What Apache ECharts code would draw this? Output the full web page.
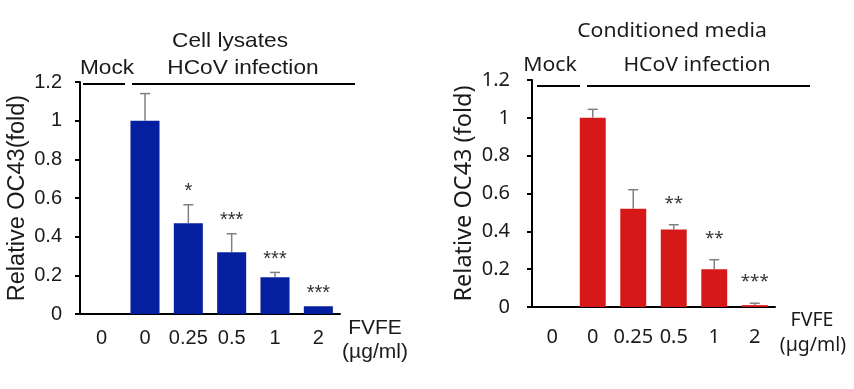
<!DOCTYPE html>
<html><head><meta charset="utf-8">
<script src="https://cdn.jsdelivr.net/npm/echarts@6/dist/echarts.min.js"></script>
<style>html,body{margin:0;padding:0;background:#fff}#c{width:854px;height:389px}</style>
</head><body><div id="c"></div>
<script>
const categories = ['0', '0', '0.25', '0.5', '1', '2'];
const yTicks = [0, 0.2, 0.4, 0.6, 0.8, 1, 1.2];
const lysateValues = [0, 1.0, 0.47, 0.32, 0.19, 0.04];
const lysateErrors = [0, 0.14, 0.095, 0.095, 0.025, 0];
const lysateStars = ['', '', '*', '***', '***', '***'];
const mediaValues = [0, 1.0, 0.52, 0.41, 0.20, 0.01];
const mediaErrors = [0, 0.045, 0.10, 0.025, 0.05, 0.01];
const mediaStars = ['', '', '', '**', '**', '***'];

const LF = 'Liberation Sans, Arial, sans-serif';
const RF = 'Noto Sans, Open Sans, sans-serif';
const TXT = '#1a1a1a';

function errSeries(gi, values, errors, stars, font, starOff, starSize) {
  return {
    type: 'custom', xAxisIndex: gi, yAxisIndex: gi, z: 5,
    data: values.map((v, i) => [i, v, errors[i]]),
    renderItem: function (params, api) {
      const i = api.value(0), v = api.value(1), e = api.value(2);
      const base = api.coord([i, v]);
      const top = api.coord([i, v + e]);
      const children = [];
      if (e > 0) {
        children.push({ type: 'line', shape: { x1: base[0], y1: base[1], x2: top[0], y2: top[1] }, style: { stroke: '#808080', lineWidth: 1.5 } });
        children.push({ type: 'line', shape: { x1: top[0] - 5, y1: top[1], x2: top[0] + 5, y2: top[1] }, style: { stroke: '#808080', lineWidth: 1.5 } });
      }
      const s = stars[params.dataIndex];
      if (s) {
        children.push({ type: 'text', style: { text: s, x: top[0], y: top[1] - starOff, align: 'center', verticalAlign: 'middle', font: starSize + 'px ' + font, fill: '#333' } });
      }
      return { type: 'group', children: children };
    }
  };
}

function yAxis(gi, name, font, gap, lmargin) {
  return {
    gridIndex: gi, type: 'value', min: yTicks[0], max: yTicks[yTicks.length - 1], interval: 0.2,
    name: name, nameLocation: 'middle', nameGap: gap, nameRotate: 90,
    nameTextStyle: { fontFamily: font, fontSize: 23.5, color: TXT },
    axisLine: { show: true, lineStyle: { color: '#000', width: 2 } },
    axisTick: { show: true, length: 5, lineStyle: { color: '#000', width: 2 } },
    axisLabel: { fontFamily: font, fontSize: 20, color: TXT, margin: lmargin },
    splitLine: { show: false }
  };
}
function xAxis(gi, font, margin) {
  return {
    gridIndex: gi, type: 'category', data: categories,
    axisLine: { show: true, lineStyle: { color: '#000', width: 2 } },
    axisTick: { show: false },
    axisLabel: { fontFamily: font, fontSize: 20, color: TXT, margin: margin, interval: 0 }
  };
}

function txt(x, y, text, font, size, sx) {
  return { type: 'text', x: x, y: y, scaleX: sx || 1, style: { text: text, x: 0, y: 0, font: size + 'px ' + font, fill: TXT, align: 'center', verticalAlign: 'middle' } };
}
function hline(x1, x2, y) {
  return { type: 'line', shape: { x1: x1, y1: y, x2: x2, y2: y }, style: { stroke: '#000', lineWidth: 2 } };
}

const chart = echarts.init(document.getElementById('c'), null, { renderer: 'canvas' });
chart.setOption({
  animation: false,
  backgroundColor: '#fff',
  grid: [
    { left: 80, width: 260, top: 82, height: 232 },
    { left: 532, width: 243, top: 80, height: 227 }
  ],
  xAxis: [xAxis(0, LF, 14), xAxis(1, RF, 20)],
  yAxis: [yAxis(0, 'Relative OC43(fold)', LF, 50, 18), yAxis(1, 'Relative OC43 (fold)', RF, 56, 22)],
  series: [
    { type: 'bar', xAxisIndex: 0, yAxisIndex: 0, data: lysateValues, barWidth: '67%', itemStyle: { color: '#0420a0' } },
    errSeries(0, lysateValues, lysateErrors, lysateStars, LF, 13, 20),
    { type: 'bar', xAxisIndex: 1, yAxisIndex: 1, data: mediaValues, barWidth: '64%', itemStyle: { color: '#d71818' } },
    errSeries(1, mediaValues, mediaErrors, mediaStars, RF, 22, 17)
  ],
  graphic: [
    txt(230, 41, 'Cell lysates', LF, 21, 1.08),
    txt(107, 68, 'Mock', LF, 21, 1.08),
    txt(243, 68, 'HCoV infection', LF, 21, 1.08),
    hline(83, 125, 84),
    hline(132, 355, 84),
    txt(375, 328, 'FVFE', LF, 20, 1.05),
    txt(375, 352, '(µg/ml)', LF, 20, 1.05),
    txt(672, 31, 'Conditioned media', RF, 20, 1.06),
    txt(550, 65, 'Mock', RF, 20, 1.06),
    txt(697, 65, 'HCoV infection', RF, 20, 1.06),
    hline(537, 580, 86),
    hline(587, 810, 86),
    txt(812, 320, 'FVFE', RF, 19.5),
    txt(813, 345, '(µg/ml)', RF, 19.5)
  ]
});
</script></body></html>
